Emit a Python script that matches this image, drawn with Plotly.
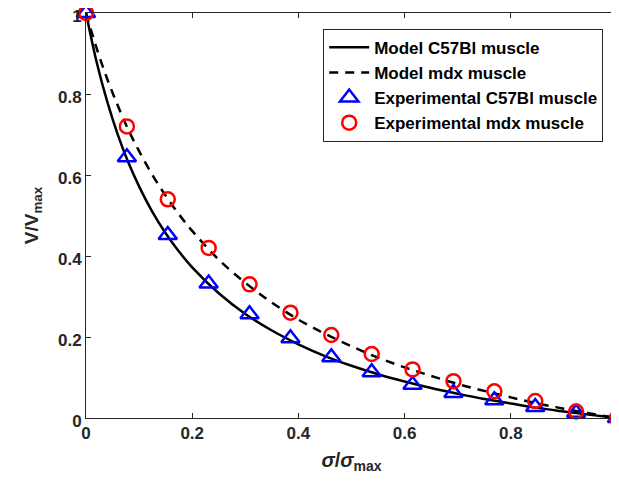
import plotly.graph_objects as go

# Experimental points
sigma_exp = [0, 0.077, 0.154, 0.231, 0.308, 0.385, 0.462, 0.538, 0.615, 0.692, 0.769, 0.846, 0.923, 1.0]
v_c57_exp = [1.0, 0.644, 0.452, 0.332, 0.256, 0.197, 0.15, 0.113, 0.082, 0.062, 0.044, 0.027, 0.013, 0.0]
v_mdx_exp = [1.0, 0.72, 0.54, 0.42, 0.33, 0.26, 0.205, 0.158, 0.12, 0.091, 0.066, 0.042, 0.016, 0.0]

# Model curves
sigma_model = [0, 0.02, 0.04, 0.06, 0.08, 0.1, 0.125, 0.15, 0.175, 0.2, 0.25, 0.3, 0.35, 0.4,
               0.45, 0.5, 0.55, 0.6, 0.65, 0.7, 0.75, 0.8, 0.85, 0.9, 0.95, 1.0]
v_c57_model = [1.0, 0.879, 0.781, 0.699, 0.630, 0.572, 0.509, 0.456, 0.411, 0.372, 0.308, 0.257, 0.216, 0.182,
               0.153, 0.129, 0.108, 0.090, 0.074, 0.060, 0.047, 0.036, 0.025, 0.016, 0.0077, 0.0]
v_mdx_model = [1.0, 0.913, 0.837, 0.771, 0.711, 0.659, 0.600, 0.549, 0.503, 0.462, 0.391, 0.334, 0.285, 0.243,
               0.208, 0.177, 0.149, 0.125, 0.104, 0.084, 0.067, 0.051, 0.036, 0.023, 0.011, 0.0]

tick_vals = [0, 0.2, 0.4, 0.6, 0.8, 1]
tick_text = ["0", "0.2", "0.4", "0.6", "0.8", "1"]

FONT = "Liberation Sans, Arial, sans-serif"
AX = "#262626"

fig = go.Figure()
fig.add_trace(go.Scatter(x=sigma_model, y=v_c57_model, mode="lines", name="Model C57Bl muscle",
                         line=dict(color="black", width=2.5), line_shape="spline", cliponaxis=False))
fig.add_trace(go.Scatter(x=sigma_model, y=v_mdx_model, mode="lines", name="Model mdx muscle",
                         line=dict(color="black", width=2.5, dash="9px,7px"), line_shape="spline", cliponaxis=False))
fig.add_trace(go.Scatter(x=sigma_exp, y=v_c57_exp, mode="markers", name="Experimental C57Bl muscle",
                         cliponaxis=False,
                         marker=dict(symbol="triangle-up-open", size=16, color="blue", line=dict(width=2.5, color="blue"))))
fig.add_trace(go.Scatter(x=sigma_exp, y=v_mdx_exp, mode="markers", name="Experimental mdx muscle",
                         cliponaxis=False,
                         marker=dict(symbol="circle-open", size=14, color="red", line=dict(width=2.5, color="red"))))

axis_common = dict(
    showline=True, linecolor=AX, linewidth=1, mirror="ticks",
    ticks="inside", ticklen=5, tickcolor=AX, tickwidth=1,
    showgrid=False, zeroline=False, automargin=False,
    ticklabeloverflow="allow",
    tickfont=dict(family=FONT, size=17, color=AX, weight="bold"),
    tickvals=tick_vals, ticktext=tick_text,
)

# The page body adds an 8px offset, so the figure is sized/margined to compensate.
fig.update_layout(
    width=611, height=480,
    margin=dict(l=78, r=2, t=5, b=70),
    paper_bgcolor="white", plot_bgcolor="white",
    font=dict(family=FONT, color=AX),
    xaxis=dict(range=[0, 1], title=dict(text="<i>σ</i>/<i>σ</i><sub>max</sub>",
               font=dict(family=FONT, size=20, color=AX, weight="bold"), standoff=10), **axis_common),
    yaxis=dict(range=[0, 1], ticklabelshift=3, title=dict(text="V/V<sub>max</sub>",
               font=dict(family=FONT, size=19, color=AX, weight="bold"), standoff=14), **axis_common),
    legend=dict(x=0.974, y=0.961, xanchor="right", yanchor="top",
                bgcolor="white", bordercolor=AX, borderwidth=1,
                font=dict(family=FONT, size=17, color="black", weight="bold"),
                tracegroupgap=0, itemwidth=40),
    showlegend=True,
)

fig.write_html("out.html")
